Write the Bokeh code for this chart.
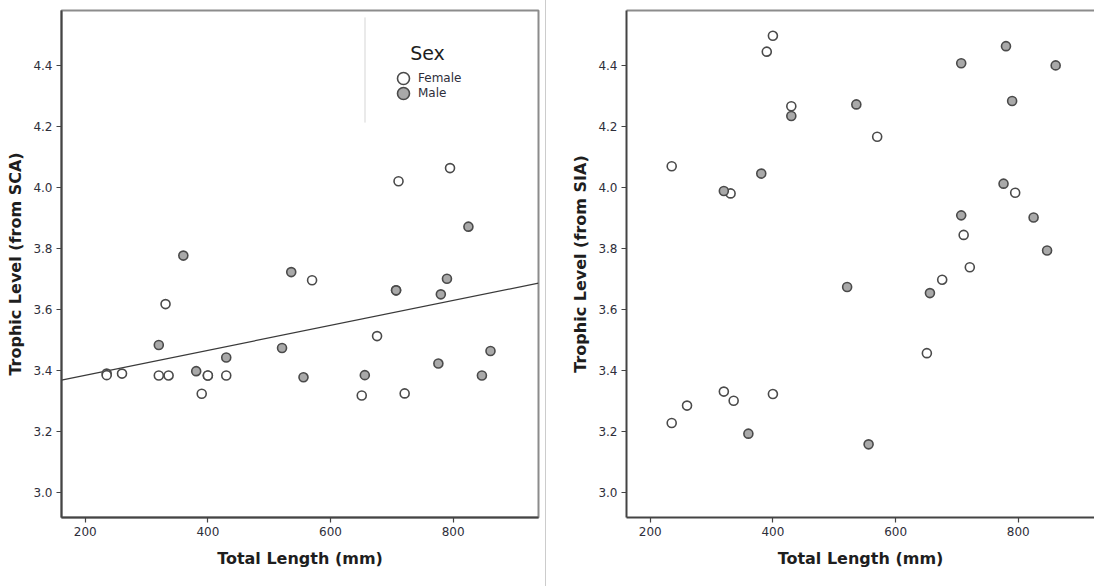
import numpy as np
from bokeh.plotting import figure
from bokeh.models import (Range1d, LinearAxis, Label, Legend, LegendItem,
                          BoxAnnotation, FixedTicker, PrintfTickFormatter, Div)
from bokeh.layouts import row
from bokeh.embed import file_html
from bokeh.resources import INLINE

# ---------------- data ----------------
length_mm = [235, 235, 260, 320, 320, 331, 336, 360, 381, 390, 400, 400,
             430, 430, 521, 536, 556, 570, 651, 656, 676, 707, 707, 711,
             721, 776, 780, 790, 795, 825, 847, 861]
sex = ["Female", "Female", "Female", "Male", "Female", "Female", "Female",
       "Male", "Male", "Female", "Female", "Female", "Male", "Female",
       "Male", "Male", "Male", "Female", "Female", "Male", "Female", "Male",
       "Male", "Female", "Female", "Male", "Male", "Male", "Female", "Male",
       "Male", "Male"]
trophic_sca = [3.390, 3.385, 3.390, 3.484, 3.384, 3.618, 3.384, 3.777,
               3.398, 3.324, 3.384, 3.384, 3.443, 3.384, 3.474, 3.723,
               3.378, 3.696, 3.318, 3.385, 3.513, 3.663, 3.663, 4.021,
               3.325, 3.423, 3.650, 3.701, 4.064, 3.872, 3.384, 3.464]
trophic_sia = [4.070, 3.228, 3.285, 3.989, 3.331, 3.981, 3.301, 3.193,
               4.046, 4.446, 4.498, 3.323, 4.235, 4.267, 3.674, 4.273,
               3.158, 4.167, 3.457, 3.654, 3.698, 4.408, 3.909, 3.845,
               3.739, 4.013, 4.464, 4.284, 3.983, 3.902, 3.794, 4.401]
x_ticks = [200, 400, 600, 800]
y_ticks = [3.0, 3.2, 3.4, 3.6, 3.8, 4.0, 4.2, 4.4]
x_label = "Total Length (mm)"
y_label_sca = "Trophic Level (from SCA)"
y_label_sia = "Trophic Level (from SIA)"
legend_title = "Sex"
legend_labels = ["Female", "Male"]

# ---------------- styling ----------------
FONT = "DejaVu Sans"
TICK_COLOR = "#2e2e3a"
AXIS_COLOR = "#444444"
FRAME_COLOR = "#8c8c8c"
MARK_LINE = "#4a4a4a"
FILL = {"Female": "#ffffff", "Male": "#a9a9a9"}
H = 586
Y0, Y1 = 2.918, 4.581
X0 = 161.3


def make_fig(width, border_left, border_right, x_end, ylab, outline=True):
    p = figure(width=width, height=H, x_range=Range1d(X0, x_end),
               y_range=Range1d(Y0, Y1), output_backend="svg",
               toolbar_location=None, min_border_left=border_left,
               min_border_right=border_right, min_border_top=10,
               min_border_bottom=69)
    p.grid.visible = False
    p.background_fill_color = "white"
    p.border_fill_color = "white"
    if outline:
        p.outline_line_color = FRAME_COLOR
        p.outline_line_width = 2
    else:
        p.outline_line_color = None
    p.xaxis.ticker = FixedTicker(ticks=x_ticks)
    p.yaxis.ticker = FixedTicker(ticks=y_ticks)
    p.yaxis.formatter = PrintfTickFormatter(format="%.1f")
    for ax in (p.xaxis[0], p.yaxis[0]):
        ax.axis_line_color = AXIS_COLOR
        ax.axis_line_width = 2
        ax.major_tick_line_color = AXIS_COLOR
        ax.major_tick_line_width = 1.2
        ax.major_tick_in = 0
        ax.major_tick_out = 5
        ax.minor_tick_line_color = None
        ax.major_label_text_font = FONT
        ax.major_label_text_font_size = "12px"
        ax.major_label_text_color = TICK_COLOR
        ax.major_label_standoff = 4
        ax.axis_label_text_font = FONT
        ax.axis_label_text_font_size = "16px"
        ax.axis_label_text_font_style = "bold"
        ax.axis_label_text_color = "#1e1e1e"
    p.xaxis.axis_label = x_label
    p.xaxis.axis_label_standoff = 10
    p.yaxis.axis_label = ylab
    p.yaxis.axis_label_standoff = 5
    p.yaxis.major_label_orientation = "horizontal"
    return p


def scatter_by_sex(p, yvals):
    rends = {}
    for s in legend_labels:
        xs = [x for x, g in zip(length_mm, sex) if g == s]
        ys = [y for y, g in zip(yvals, sex) if g == s]
        rends[s] = p.scatter(xs, ys, marker="circle", size=9,
                             fill_color=FILL[s], line_color=MARK_LINE,
                             line_width=1.6)
    return rends


# ---------------- left panel (SCA) ----------------
left = make_fig(545, 61, 7, 939.3, y_label_sca)

# least-squares fit line over the visible x range
slope, intercept = np.polyfit(length_mm, trophic_sca, 1)
fx = [X0, 939.3]
left.line(fx, [intercept + slope * v for v in fx], line_color="#3a3a3a",
          line_width=1.2)
rl = scatter_by_sex(left, trophic_sca)

# one single-item legend per sex so that the rows sit 15 px apart
for i, s in enumerate(legend_labels):
    lg = Legend(items=[LegendItem(label=s, renderers=[rl[s]])],
                location=(327, 424 - 15 * i), glyph_width=30,
                glyph_height=30, label_height=30, label_standoff=-20,
                padding=0, margin=0, border_line_color=None,
                background_fill_alpha=0, label_text_font=FONT,
                label_text_font_size="12px", label_text_color=TICK_COLOR)
    left.add_layout(lg)
left.add_layout(Label(x=366, y=465, x_units="screen", y_units="screen",
                      text=legend_title, text_align="center",
                      text_baseline="middle", text_font=FONT,
                      text_font_size="19px", text_color="#1e1e1e"))
left.add_layout(BoxAnnotation(left=303.5, right=303.5, top=500, bottom=395,
                              left_units="screen", right_units="screen",
                              top_units="screen", bottom_units="screen",
                              fill_alpha=0, line_color="#b4b4b4",
                              line_width=1))

# ---------------- separator + right panel (SIA) ----------------
sep = Div(width=1, height=H, margin=0, styles={"background-color": "#cccccc"})

right = make_fig(548, 80, 0, 924.3, y_label_sia, outline=False)
top_ax = LinearAxis(ticker=FixedTicker(ticks=[]), axis_line_color=FRAME_COLOR,
                    axis_line_width=2, major_tick_line_color=None,
                    minor_tick_line_color=None,
                    major_label_text_font_size="0px")
right.add_layout(top_ax, "above")
scatter_by_sex(right, trophic_sia)

layout = row(left, sep, right, spacing=0)
open("out.html", "w").write(file_html(layout, INLINE))
